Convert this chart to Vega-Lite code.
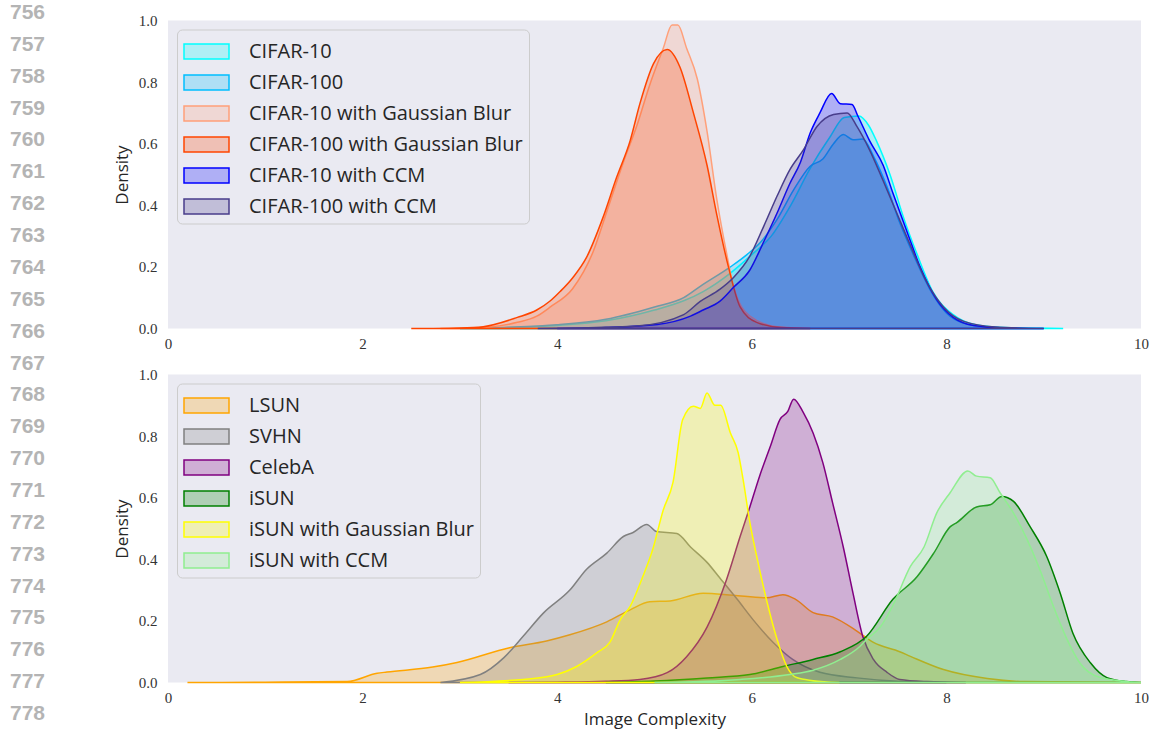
{
  "$schema": "https://vega.github.io/schema/vega-lite/v6.json",
  "padding": 0,
  "background": "white",
  "spacing": 58,
  "center": true,
  "config": {
    "view": {"stroke": null},
    "axis": {"grid": false, "domain": false, "ticks": false, "labelFont": "Liberation Serif", "labelFontSize": 15, "labelColor": "#333333", "titleFont": "Open Sans", "titleFontSize": 17, "titleFontWeight": "normal", "titleColor": "#262626"},
    "legend": {"orient": "top-left", "offset": 9, "title": null, "symbolType": "M-1,-0.5H2V0.5H-1Z", "symbolSize": 900, "symbolStrokeWidth": 1.5, "labelFont": "Open Sans", "labelFontSize": 20, "labelColor": "#262626", "labelOffset": 34, "rowPadding": 4, "padding": 6, "fillColor": "#EAEAF2", "strokeColor": "#CCCCCC", "cornerRadius": 5, "labelLimit": 500, "symbolOpacity": 1}
  },
  "datasets": {
    "linenos": [{"n":756},{"n":757},{"n":758},{"n":759},{"n":760},{"n":761},{"n":762},{"n":763},{"n":764},{"n":765},{"n":766},{"n":767},{"n":768},{"n":769},{"n":770},{"n":771},{"n":772},{"n":773},{"n":774},{"n":775},{"n":776},{"n":777},{"n":778}],
    "top": [
      {"series":"CIFAR-10","x":3.0,"density":0},{"series":"CIFAR-10","x":3.5,"density":0.003},{"series":"CIFAR-10","x":4.0,"density":0.01},{"series":"CIFAR-10","x":4.5,"density":0.025},{"series":"CIFAR-10","x":5.0,"density":0.06},{"series":"CIFAR-10","x":5.3,"density":0.09},{"series":"CIFAR-10","x":5.5,"density":0.12},{"series":"CIFAR-10","x":5.78,"density":0.18},{"series":"CIFAR-10","x":6.0,"density":0.24},{"series":"CIFAR-10","x":6.2,"density":0.3},{"series":"CIFAR-10","x":6.4,"density":0.4},{"series":"CIFAR-10","x":6.6,"density":0.52},{"series":"CIFAR-10","x":6.8,"density":0.62},{"series":"CIFAR-10","x":6.95,"density":0.685},{"series":"CIFAR-10","x":7.1,"density":0.69},{"series":"CIFAR-10","x":7.2,"density":0.66},{"series":"CIFAR-10","x":7.28,"density":0.61},{"series":"CIFAR-10","x":7.42,"density":0.5},{"series":"CIFAR-10","x":7.56,"density":0.36},{"series":"CIFAR-10","x":7.7,"density":0.24},{"series":"CIFAR-10","x":7.86,"density":0.12},{"series":"CIFAR-10","x":8.07,"density":0.045},{"series":"CIFAR-10","x":8.3,"density":0.012},{"series":"CIFAR-10","x":8.6,"density":0.003},{"series":"CIFAR-10","x":9.2,"density":0},
      {"series":"CIFAR-100","x":3.0,"density":0},{"series":"CIFAR-100","x":3.5,"density":0.004},{"series":"CIFAR-100","x":4.0,"density":0.012},{"series":"CIFAR-100","x":4.5,"density":0.03},{"series":"CIFAR-100","x":5.0,"density":0.07},{"series":"CIFAR-100","x":5.3,"density":0.1},{"series":"CIFAR-100","x":5.47,"density":0.137},{"series":"CIFAR-100","x":5.78,"density":0.2},{"series":"CIFAR-100","x":5.95,"density":0.24},{"series":"CIFAR-100","x":6.09,"density":0.28},{"series":"CIFAR-100","x":6.26,"density":0.354},{"series":"CIFAR-100","x":6.43,"density":0.45},{"series":"CIFAR-100","x":6.6,"density":0.527},{"series":"CIFAR-100","x":6.73,"density":0.55},{"series":"CIFAR-100","x":6.84,"density":0.6},{"series":"CIFAR-100","x":6.94,"density":0.63},{"series":"CIFAR-100","x":7.04,"density":0.613},{"series":"CIFAR-100","x":7.14,"density":0.615},{"series":"CIFAR-100","x":7.25,"density":0.56},{"series":"CIFAR-100","x":7.39,"density":0.46},{"series":"CIFAR-100","x":7.52,"density":0.344},{"series":"CIFAR-100","x":7.66,"density":0.24},{"series":"CIFAR-100","x":7.83,"density":0.127},{"series":"CIFAR-100","x":8.0,"density":0.05},{"series":"CIFAR-100","x":8.2,"density":0.015},{"series":"CIFAR-100","x":8.5,"density":0.003},{"series":"CIFAR-100","x":9.0,"density":0},
      {"series":"CIFAR-10 with Gaussian Blur","x":2.8,"density":0},{"series":"CIFAR-10 with Gaussian Blur","x":3.3,"density":0.005},{"series":"CIFAR-10 with Gaussian Blur","x":3.59,"density":0.02},{"series":"CIFAR-10 with Gaussian Blur","x":3.79,"density":0.04},{"series":"CIFAR-10 with Gaussian Blur","x":3.93,"density":0.07},{"series":"CIFAR-10 with Gaussian Blur","x":4.16,"density":0.13},{"series":"CIFAR-10 with Gaussian Blur","x":4.37,"density":0.25},{"series":"CIFAR-10 with Gaussian Blur","x":4.51,"density":0.38},{"series":"CIFAR-10 with Gaussian Blur","x":4.68,"density":0.54},{"series":"CIFAR-10 with Gaussian Blur","x":4.82,"density":0.66},{"series":"CIFAR-10 with Gaussian Blur","x":4.95,"density":0.79},{"series":"CIFAR-10 with Gaussian Blur","x":5.09,"density":0.91},{"series":"CIFAR-10 with Gaussian Blur","x":5.18,"density":0.985},{"series":"CIFAR-10 with Gaussian Blur","x":5.24,"density":0.985},{"series":"CIFAR-10 with Gaussian Blur","x":5.33,"density":0.91},{"series":"CIFAR-10 with Gaussian Blur","x":5.44,"density":0.81},{"series":"CIFAR-10 with Gaussian Blur","x":5.54,"density":0.64},{"series":"CIFAR-10 with Gaussian Blur","x":5.64,"density":0.42},{"series":"CIFAR-10 with Gaussian Blur","x":5.75,"density":0.23},{"series":"CIFAR-10 with Gaussian Blur","x":5.81,"density":0.14},{"series":"CIFAR-10 with Gaussian Blur","x":5.98,"density":0.04},{"series":"CIFAR-10 with Gaussian Blur","x":6.26,"density":0.006},{"series":"CIFAR-10 with Gaussian Blur","x":6.6,"density":0},
      {"series":"CIFAR-100 with Gaussian Blur","x":2.5,"density":0},{"series":"CIFAR-100 with Gaussian Blur","x":3.0,"density":0.002},{"series":"CIFAR-100 with Gaussian Blur","x":3.24,"density":0.006},{"series":"CIFAR-100 with Gaussian Blur","x":3.59,"density":0.036},{"series":"CIFAR-100 with Gaussian Blur","x":3.79,"density":0.06},{"series":"CIFAR-100 with Gaussian Blur","x":3.93,"density":0.09},{"series":"CIFAR-100 with Gaussian Blur","x":4.03,"density":0.12},{"series":"CIFAR-100 with Gaussian Blur","x":4.16,"density":0.165},{"series":"CIFAR-100 with Gaussian Blur","x":4.3,"density":0.23},{"series":"CIFAR-100 with Gaussian Blur","x":4.47,"density":0.36},{"series":"CIFAR-100 with Gaussian Blur","x":4.61,"density":0.49},{"series":"CIFAR-100 with Gaussian Blur","x":4.75,"density":0.61},{"series":"CIFAR-100 with Gaussian Blur","x":4.85,"density":0.73},{"series":"CIFAR-100 with Gaussian Blur","x":4.99,"density":0.86},{"series":"CIFAR-100 with Gaussian Blur","x":5.13,"density":0.906},{"series":"CIFAR-100 with Gaussian Blur","x":5.26,"density":0.85},{"series":"CIFAR-100 with Gaussian Blur","x":5.4,"density":0.7},{"series":"CIFAR-100 with Gaussian Blur","x":5.54,"density":0.53},{"series":"CIFAR-100 with Gaussian Blur","x":5.64,"density":0.37},{"series":"CIFAR-100 with Gaussian Blur","x":5.76,"density":0.2},{"series":"CIFAR-100 with Gaussian Blur","x":5.88,"density":0.07},{"series":"CIFAR-100 with Gaussian Blur","x":6.05,"density":0.02},{"series":"CIFAR-100 with Gaussian Blur","x":6.3,"density":0.003},{"series":"CIFAR-100 with Gaussian Blur","x":6.6,"density":0},
      {"series":"CIFAR-10 with CCM","x":4.0,"density":0},{"series":"CIFAR-10 with CCM","x":4.5,"density":0.003},{"series":"CIFAR-10 with CCM","x":5.03,"density":0.013},{"series":"CIFAR-10 with CCM","x":5.37,"density":0.04},{"series":"CIFAR-10 with CCM","x":5.5,"density":0.06},{"series":"CIFAR-10 with CCM","x":5.67,"density":0.088},{"series":"CIFAR-10 with CCM","x":5.81,"density":0.133},{"series":"CIFAR-10 with CCM","x":5.98,"density":0.19},{"series":"CIFAR-10 with CCM","x":6.12,"density":0.28},{"series":"CIFAR-10 with CCM","x":6.26,"density":0.375},{"series":"CIFAR-10 with CCM","x":6.39,"density":0.47},{"series":"CIFAR-10 with CCM","x":6.5,"density":0.54},{"series":"CIFAR-10 with CCM","x":6.6,"density":0.635},{"series":"CIFAR-10 with CCM","x":6.7,"density":0.7},{"series":"CIFAR-10 with CCM","x":6.82,"density":0.763},{"series":"CIFAR-10 with CCM","x":6.91,"density":0.73},{"series":"CIFAR-10 with CCM","x":7.03,"density":0.727},{"series":"CIFAR-10 with CCM","x":7.09,"density":0.69},{"series":"CIFAR-10 with CCM","x":7.21,"density":0.61},{"series":"CIFAR-10 with CCM","x":7.35,"density":0.53},{"series":"CIFAR-10 with CCM","x":7.45,"density":0.44},{"series":"CIFAR-10 with CCM","x":7.6,"density":0.31},{"series":"CIFAR-10 with CCM","x":7.73,"density":0.2},{"series":"CIFAR-10 with CCM","x":7.9,"density":0.094},{"series":"CIFAR-10 with CCM","x":8.07,"density":0.036},{"series":"CIFAR-10 with CCM","x":8.28,"density":0.01},{"series":"CIFAR-10 with CCM","x":8.6,"density":0.002},{"series":"CIFAR-10 with CCM","x":9.0,"density":0},
      {"series":"CIFAR-100 with CCM","x":3.8,"density":0},{"series":"CIFAR-100 with CCM","x":4.2,"density":0.002},{"series":"CIFAR-100 with CCM","x":4.82,"density":0.008},{"series":"CIFAR-100 with CCM","x":5.3,"density":0.045},{"series":"CIFAR-100 with CCM","x":5.47,"density":0.088},{"series":"CIFAR-100 with CCM","x":5.67,"density":0.127},{"series":"CIFAR-100 with CCM","x":5.81,"density":0.165},{"series":"CIFAR-100 with CCM","x":5.98,"density":0.235},{"series":"CIFAR-100 with CCM","x":6.12,"density":0.33},{"series":"CIFAR-100 with CCM","x":6.26,"density":0.43},{"series":"CIFAR-100 with CCM","x":6.39,"density":0.515},{"series":"CIFAR-100 with CCM","x":6.53,"density":0.58},{"series":"CIFAR-100 with CCM","x":6.67,"density":0.656},{"series":"CIFAR-100 with CCM","x":6.84,"density":0.695},{"series":"CIFAR-100 with CCM","x":6.98,"density":0.7},{"series":"CIFAR-100 with CCM","x":7.08,"density":0.656},{"series":"CIFAR-100 with CCM","x":7.21,"density":0.58},{"series":"CIFAR-100 with CCM","x":7.35,"density":0.48},{"series":"CIFAR-100 with CCM","x":7.49,"density":0.375},{"series":"CIFAR-100 with CCM","x":7.63,"density":0.27},{"series":"CIFAR-100 with CCM","x":7.8,"density":0.15},{"series":"CIFAR-100 with CCM","x":7.97,"density":0.07},{"series":"CIFAR-100 with CCM","x":8.18,"density":0.023},{"series":"CIFAR-100 with CCM","x":8.5,"density":0.005},{"series":"CIFAR-100 with CCM","x":9.0,"density":0}
    ],
    "bottom": [
      {"series":"LSUN","x":0.2,"density":0},{"series":"LSUN","x":1.0,"density":0.001},{"series":"LSUN","x":1.84,"density":0.003},{"series":"LSUN","x":2.15,"density":0.03},{"series":"LSUN","x":2.25,"density":0.034},{"series":"LSUN","x":2.72,"density":0.05},{"series":"LSUN","x":2.97,"density":0.065},{"series":"LSUN","x":3.51,"density":0.113},{"series":"LSUN","x":3.89,"density":0.135},{"series":"LSUN","x":4.13,"density":0.155},{"series":"LSUN","x":4.51,"density":0.197},{"series":"LSUN","x":4.75,"density":0.236},{"series":"LSUN","x":4.95,"density":0.262},{"series":"LSUN","x":5.16,"density":0.265},{"series":"LSUN","x":5.5,"density":0.29},{"series":"LSUN","x":5.81,"density":0.283},{"series":"LSUN","x":6.15,"density":0.275},{"series":"LSUN","x":6.32,"density":0.285},{"series":"LSUN","x":6.45,"density":0.27},{"series":"LSUN","x":6.63,"density":0.227},{"series":"LSUN","x":6.83,"density":0.213},{"series":"LSUN","x":7.08,"density":0.167},{"series":"LSUN","x":7.25,"density":0.13},{"series":"LSUN","x":7.52,"density":0.1},{"series":"LSUN","x":7.63,"density":0.085},{"series":"LSUN","x":7.97,"density":0.042},{"series":"LSUN","x":8.42,"density":0.013},{"series":"LSUN","x":8.8,"density":0.003},{"series":"LSUN","x":10.0,"density":0},
      {"series":"SVHN","x":2.8,"density":0},{"series":"SVHN","x":3.21,"density":0.026},{"series":"SVHN","x":3.45,"density":0.08},{"series":"SVHN","x":3.65,"density":0.15},{"series":"SVHN","x":3.86,"density":0.226},{"series":"SVHN","x":4.13,"density":0.3},{"series":"SVHN","x":4.3,"density":0.367},{"series":"SVHN","x":4.51,"density":0.42},{"series":"SVHN","x":4.68,"density":0.474},{"series":"SVHN","x":4.78,"density":0.487},{"series":"SVHN","x":4.92,"density":0.513},{"series":"SVHN","x":5.02,"density":0.49},{"series":"SVHN","x":5.23,"density":0.484},{"series":"SVHN","x":5.37,"density":0.44},{"series":"SVHN","x":5.54,"density":0.39},{"series":"SVHN","x":5.67,"density":0.34},{"series":"SVHN","x":5.85,"density":0.27},{"series":"SVHN","x":6.01,"density":0.205},{"series":"SVHN","x":6.22,"density":0.13},{"series":"SVHN","x":6.42,"density":0.075},{"series":"SVHN","x":6.7,"density":0.033},{"series":"SVHN","x":7.08,"density":0.015},{"series":"SVHN","x":7.5,"density":0.004},{"series":"SVHN","x":8.0,"density":0},
      {"series":"CelebA","x":3.5,"density":0},{"series":"CelebA","x":4.0,"density":0.001},{"series":"CelebA","x":4.5,"density":0.004},{"series":"CelebA","x":4.85,"density":0.01},{"series":"CelebA","x":5.13,"density":0.032},{"series":"CelebA","x":5.33,"density":0.084},{"series":"CelebA","x":5.54,"density":0.18},{"series":"CelebA","x":5.74,"density":0.334},{"series":"CelebA","x":5.88,"density":0.474},{"series":"CelebA","x":5.98,"density":0.57},{"series":"CelebA","x":6.08,"density":0.67},{"series":"CelebA","x":6.19,"density":0.766},{"series":"CelebA","x":6.29,"density":0.854},{"series":"CelebA","x":6.37,"density":0.88},{"series":"CelebA","x":6.43,"density":0.92},{"series":"CelebA","x":6.53,"density":0.876},{"series":"CelebA","x":6.63,"density":0.81},{"series":"CelebA","x":6.73,"density":0.714},{"series":"CelebA","x":6.83,"density":0.584},{"series":"CelebA","x":6.94,"density":0.44},{"series":"CelebA","x":7.04,"density":0.29},{"series":"CelebA","x":7.14,"density":0.15},{"series":"CelebA","x":7.25,"density":0.075},{"series":"CelebA","x":7.39,"density":0.033},{"series":"CelebA","x":7.52,"density":0.01},{"series":"CelebA","x":7.8,"density":0.003},{"series":"CelebA","x":8.2,"density":0},
      {"series":"iSUN","x":4.5,"density":0},{"series":"iSUN","x":5.0,"density":0.005},{"series":"iSUN","x":5.54,"density":0.015},{"series":"iSUN","x":5.98,"density":0.026},{"series":"iSUN","x":6.32,"density":0.052},{"series":"iSUN","x":6.63,"density":0.075},{"series":"iSUN","x":6.91,"density":0.1},{"series":"iSUN","x":7.18,"density":0.15},{"series":"iSUN","x":7.45,"density":0.27},{"series":"iSUN","x":7.7,"density":0.344},{"series":"iSUN","x":7.87,"density":0.42},{"series":"iSUN","x":8.04,"density":0.506},{"series":"iSUN","x":8.11,"density":0.52},{"series":"iSUN","x":8.31,"density":0.57},{"series":"iSUN","x":8.45,"density":0.577},{"series":"iSUN","x":8.57,"density":0.604},{"series":"iSUN","x":8.69,"density":0.588},{"series":"iSUN","x":8.86,"density":0.506},{"series":"iSUN","x":9.03,"density":0.41},{"series":"iSUN","x":9.17,"density":0.29},{"series":"iSUN","x":9.3,"density":0.16},{"series":"iSUN","x":9.48,"density":0.064},{"series":"iSUN","x":9.65,"density":0.016},{"series":"iSUN","x":9.85,"density":0.003},{"series":"iSUN","x":10.0,"density":0},
      {"series":"iSUN with Gaussian Blur","x":3.0,"density":0},{"series":"iSUN with Gaussian Blur","x":3.65,"density":0.01},{"series":"iSUN with Gaussian Blur","x":4.0,"density":0.026},{"series":"iSUN with Gaussian Blur","x":4.2,"density":0.052},{"series":"iSUN with Gaussian Blur","x":4.41,"density":0.097},{"series":"iSUN with Gaussian Blur","x":4.54,"density":0.13},{"series":"iSUN with Gaussian Blur","x":4.65,"density":0.205},{"series":"iSUN with Gaussian Blur","x":4.75,"density":0.247},{"series":"iSUN with Gaussian Blur","x":4.88,"density":0.344},{"series":"iSUN with Gaussian Blur","x":4.98,"density":0.43},{"series":"iSUN with Gaussian Blur","x":5.09,"density":0.56},{"series":"iSUN with Gaussian Blur","x":5.19,"density":0.65},{"series":"iSUN with Gaussian Blur","x":5.29,"density":0.854},{"series":"iSUN with Gaussian Blur","x":5.4,"density":0.897},{"series":"iSUN with Gaussian Blur","x":5.47,"density":0.89},{"series":"iSUN with Gaussian Blur","x":5.54,"density":0.94},{"series":"iSUN with Gaussian Blur","x":5.62,"density":0.9},{"series":"iSUN with Gaussian Blur","x":5.68,"density":0.9},{"series":"iSUN with Gaussian Blur","x":5.78,"density":0.81},{"series":"iSUN with Gaussian Blur","x":5.86,"density":0.746},{"series":"iSUN with Gaussian Blur","x":5.91,"density":0.66},{"series":"iSUN with Gaussian Blur","x":5.98,"density":0.52},{"series":"iSUN with Gaussian Blur","x":6.05,"density":0.41},{"series":"iSUN with Gaussian Blur","x":6.15,"density":0.27},{"series":"iSUN with Gaussian Blur","x":6.26,"density":0.14},{"series":"iSUN with Gaussian Blur","x":6.36,"density":0.052},{"series":"iSUN with Gaussian Blur","x":6.46,"density":0.016},{"series":"iSUN with Gaussian Blur","x":6.63,"density":0.006},{"series":"iSUN with Gaussian Blur","x":6.9,"density":0},
      {"series":"iSUN with CCM","x":5.0,"density":0},{"series":"iSUN with CCM","x":5.88,"density":0.01},{"series":"iSUN with CCM","x":6.39,"density":0.026},{"series":"iSUN with CCM","x":6.63,"density":0.04},{"series":"iSUN with CCM","x":6.91,"density":0.075},{"series":"iSUN with CCM","x":7.11,"density":0.117},{"series":"iSUN with CCM","x":7.18,"density":0.14},{"series":"iSUN with CCM","x":7.32,"density":0.18},{"series":"iSUN with CCM","x":7.45,"density":0.25},{"series":"iSUN with CCM","x":7.63,"density":0.377},{"series":"iSUN with CCM","x":7.77,"density":0.44},{"series":"iSUN with CCM","x":7.9,"density":0.55},{"series":"iSUN with CCM","x":8.04,"density":0.617},{"series":"iSUN with CCM","x":8.22,"density":0.687},{"series":"iSUN with CCM","x":8.31,"density":0.67},{"series":"iSUN with CCM","x":8.45,"density":0.665},{"series":"iSUN with CCM","x":8.55,"density":0.617},{"series":"iSUN with CCM","x":8.69,"density":0.55},{"series":"iSUN with CCM","x":8.83,"density":0.464},{"series":"iSUN with CCM","x":8.96,"density":0.367},{"series":"iSUN with CCM","x":9.1,"density":0.247},{"series":"iSUN with CCM","x":9.24,"density":0.14},{"series":"iSUN with CCM","x":9.37,"density":0.064},{"series":"iSUN with CCM","x":9.58,"density":0.016},{"series":"iSUN with CCM","x":9.9,"density":0.002},{"series":"iSUN with CCM","x":10.0,"density":0}
    ]
  },
  "hconcat": [
    {
      "data": {"name": "linenos"},
      "width": 55,
      "height": 748,
      "mark": {"type": "text", "font": "Liberation Sans", "fontWeight": "bold", "fontSize": 21, "color": "#b4b4b4", "align": "center", "baseline": "middle"},
      "encoding": {
        "y": {"field": "n", "type": "quantitative", "scale": {"domain": [755.592, 779.067], "reverse": true, "nice": false, "zero": false}, "axis": null},
        "text": {"field": "n", "type": "nominal"}
      }
    },
    {
      "spacing": 16,
      "resolve": {"scale": {"fill": "independent", "stroke": "independent"}, "legend": {"fill": "independent", "stroke": "independent"}},
      "vconcat": [
        {
          "data": {"name": "top"},
          "width": 973,
          "height": 308,
          "view": {"fill": "#EAEAF2", "stroke": null},
          "mark": {"type": "area", "fillOpacity": 0.25, "strokeWidth": 1.5, "strokeOpacity": 1, "interpolate": "monotone"},
          "encoding": {
            "x": {"field": "x", "type": "quantitative", "scale": {"domain": [0, 10], "nice": false}, "axis": {"values": [0, 2, 4, 6, 8, 10], "title": null, "labelFlush": false, "labelPadding": 8}},
            "y": {"field": "density", "type": "quantitative", "stack": null, "scale": {"domain": [0, 1], "nice": false}, "axis": {"values": [0, 0.2, 0.4, 0.6, 0.8, 1.0], "format": ".1f", "title": "Density", "labelPadding": 11, "titlePadding": 7}},
            "fill": {"field": "series", "type": "nominal", "scale": {"domain": ["CIFAR-10", "CIFAR-100", "CIFAR-10 with Gaussian Blur", "CIFAR-100 with Gaussian Blur", "CIFAR-10 with CCM", "CIFAR-100 with CCM"], "range": ["#00FFFF", "#00BFFF", "#FFA07A", "#FF4500", "#0000FF", "#483D8B"]}, "legend": {"encode": {"symbols": {"update": {"fillOpacity": {"value": 0.25}, "strokeOpacity": {"value": 1}}}}}},
            "stroke": {"field": "series", "type": "nominal", "scale": {"domain": ["CIFAR-10", "CIFAR-100", "CIFAR-10 with Gaussian Blur", "CIFAR-100 with Gaussian Blur", "CIFAR-10 with CCM", "CIFAR-100 with CCM"], "range": ["#00FFFF", "#00BFFF", "#FFA07A", "#FF4500", "#0000FF", "#483D8B"]}, "legend": {"encode": {"symbols": {"update": {"fillOpacity": {"value": 0.25}, "strokeOpacity": {"value": 1}}}}}}
          }
        },
        {
          "data": {"name": "bottom"},
          "width": 973,
          "height": 308,
          "view": {"fill": "#EAEAF2", "stroke": null},
          "mark": {"type": "area", "fillOpacity": 0.25, "strokeWidth": 1.5, "strokeOpacity": 1, "interpolate": "monotone"},
          "encoding": {
            "x": {"field": "x", "type": "quantitative", "scale": {"domain": [0, 10], "nice": false}, "axis": {"values": [0, 2, 4, 6, 8, 10], "title": "Image Complexity", "labelFlush": false, "labelPadding": 8, "titlePadding": 6}},
            "y": {"field": "density", "type": "quantitative", "stack": null, "scale": {"domain": [0, 1], "nice": false}, "axis": {"values": [0, 0.2, 0.4, 0.6, 0.8, 1.0], "format": ".1f", "title": "Density", "labelPadding": 11, "titlePadding": 7}},
            "fill": {"field": "series", "type": "nominal", "scale": {"domain": ["LSUN", "SVHN", "CelebA", "iSUN", "iSUN with Gaussian Blur", "iSUN with CCM"], "range": ["#FFA500", "#808080", "#800080", "#008000", "#FFFF00", "#90EE90"]}, "legend": {"encode": {"symbols": {"update": {"fillOpacity": {"value": 0.25}, "strokeOpacity": {"value": 1}}}}}},
            "stroke": {"field": "series", "type": "nominal", "scale": {"domain": ["LSUN", "SVHN", "CelebA", "iSUN", "iSUN with Gaussian Blur", "iSUN with CCM"], "range": ["#FFA500", "#808080", "#800080", "#008000", "#FFFF00", "#90EE90"]}, "legend": {"encode": {"symbols": {"update": {"fillOpacity": {"value": 0.25}, "strokeOpacity": {"value": 1}}}}}}
          }
        }
      ]
    }
  ]
}
